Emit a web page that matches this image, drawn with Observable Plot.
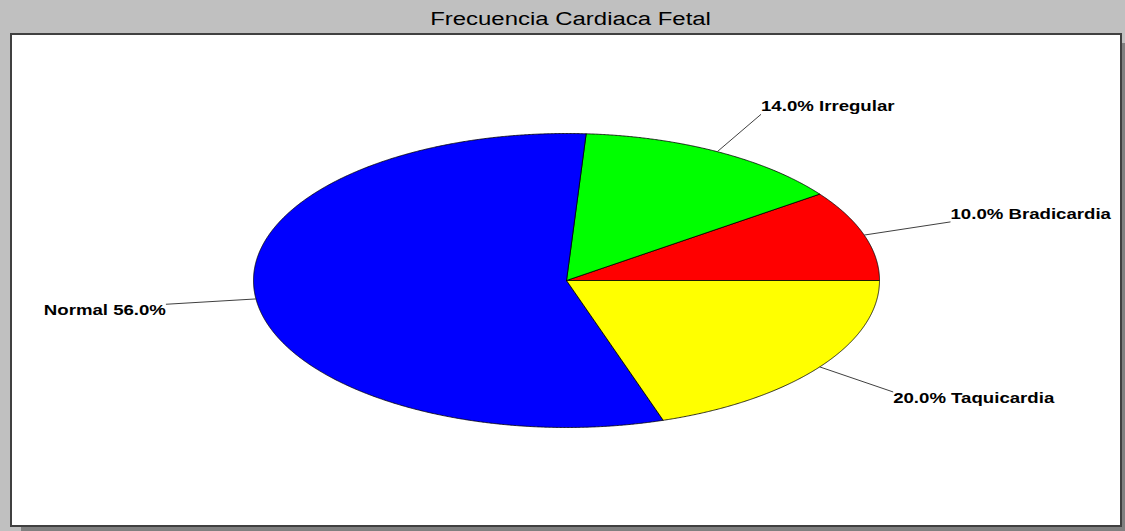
<!DOCTYPE html>
<html><head><meta charset="utf-8">
<script src="https://cdn.jsdelivr.net/npm/d3@7"></script>
<script src="https://cdn.jsdelivr.net/npm/@observablehq/plot@0.6"></script>
<style>
html,body{margin:0;padding:0;background:#c0c0c0;width:1125px;height:531px;overflow:hidden;font-family:"Liberation Sans",Arial,sans-serif;}
#title{position:absolute;left:0;top:10px;width:1142px;text-align:center;font-size:18px;line-height:18px;color:#000;}
#title span{display:inline-block;transform:scaleX(1.33);}
#panel{position:absolute;left:10px;top:33px;width:1112px;height:494px;box-sizing:border-box;border:2px solid #404040;background:#fff;box-shadow:8px 7px 0 -3px #808080;}
#chart{position:absolute;left:0;top:0;}
</style></head><body>
<div id="title"><span>Frecuencia Cardiaca Fetal</span></div>
<div id="panel"></div>
<div id="chart"></div>
<script>
// Data (counter-clockwise from 3 o'clock)
const categories = ["Bradicardia", "Irregular", "Normal", "Taquicardia"];
const percents = [10, 14, 56, 20];
const colors = ["#ff0000", "#00ff00", "#0000ff", "#ffff00"];

// Build slice polygons from the data
const total = d3.sum(percents);
const slices = [];
const labels = [];
let acc = 0;
categories.forEach((name, i) => {
  const a0 = acc / total * 2 * Math.PI;
  acc += percents[i];
  const a1 = acc / total * 2 * Math.PI;
  slices.push({name, x: 0, y: 0});
  const n = Math.max(2, Math.ceil((a1 - a0) / (Math.PI / 720)));
  for (let k = 0; k <= n; k++) {
    const a = a0 + (a1 - a0) * k / n;
    slices.push({name, x: Math.cos(a), y: Math.sin(a)});
  }
  slices.push({name, x: 0, y: 0});
  const am = (a0 + a1) / 2;
  const cx = Math.cos(am), cy = Math.sin(am);
  const pct = percents[i].toFixed(1) + "%";
  labels.push({
    name, x1: cx, y1: cy, x2: 1.29 * cx, y2: 1.29 * cy,
    left: cx < 0, upper: cy >= 0,
    text: cx < 0 ? `${name} ${pct}` : `${pct} ${name}`
  });
});

const textStyle = {fontSize: 14, fontWeight: "bold", fill: "#000", fontFamily: "Liberation Sans, Arial, sans-serif"};
const labelMarks = [];
for (const left of [false, true]) {
  for (const upper of [false, true]) {
    const group = labels.filter(d => d.left === left && d.upper === upper);
    if (!group.length) continue;
    labelMarks.push(Plot.text(group, {
      x: "x2", y: "y2", text: "text",
      textAnchor: left ? "end" : "start",
      lineAnchor: upper ? "bottom" : "top",
      dy: upper ? -3 : 1,
      ...textStyle
    }));
  }
}

const chart = Plot.plot({
  width: 1125,
  height: 531,
  margin: 0,
  style: {background: "transparent", overflow: "visible"},
  x: {type: "linear", domain: [-1, 1], range: [253, 879], axis: null},
  y: {type: "linear", domain: [-1, 1], range: [427, 133], axis: null},
  color: {domain: categories, range: colors},
  marks: [
    Plot.line(slices, {x: "x", y: "y", z: "name", fill: "name", stroke: "#000", strokeWidth: 0.8}),
    Plot.link(labels, {x1: "x1", y1: "y1", x2: "x2", y2: "y2", stroke: "#404040", strokeWidth: 1}),
    ...labelMarks
  ]
});
document.getElementById("chart").appendChild(chart);
// horizontally widen label glyphs as in the reference
chart.querySelectorAll("text").forEach(t => {
  const w = t.getComputedTextLength();
  t.setAttribute("textLength", (w * 1.33).toFixed(1));
  t.setAttribute("lengthAdjust", "spacingAndGlyphs");
});
</script>
</body></html>
